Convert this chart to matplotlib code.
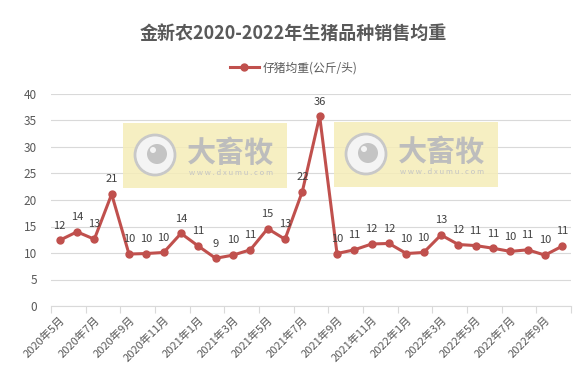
import matplotlib.pyplot as plt
from matplotlib.patches import Rectangle, Ellipse

plt.rcParams['font.family'] = ['Noto Sans CJK SC', 'DejaVu Sans']

# 数据
months = ["2020年5月", "2020年6月", "2020年7月", "2020年8月", "2020年9月", "2020年10月",
          "2020年11月", "2020年12月", "2021年1月", "2021年2月", "2021年3月", "2021年4月",
          "2021年5月", "2021年6月", "2021年7月", "2021年8月", "2021年9月", "2021年10月",
          "2021年11月", "2021年12月", "2022年1月", "2022年2月", "2022年3月", "2022年4月",
          "2022年5月", "2022年6月", "2022年7月", "2022年8月", "2022年9月", "2022年10月"]
weights = [12.4, 14.0, 12.6, 21.1, 9.8, 9.9, 10.1, 13.7, 11.3, 9.0, 9.6, 10.6,
           14.6, 12.6, 21.6, 35.8, 9.9, 10.6, 11.7, 11.8, 9.9, 10.1, 13.4, 11.6,
           11.4, 10.9, 10.3, 10.6, 9.6, 11.3]
series_name = "仔猪均重(公斤/头)"
title = "金新农2020-2022年生猪品种销售均重"

W, H = 587, 379
fig = plt.figure(figsize=(W / 100, H / 100), dpi=100)
ax = fig.add_axes([51 / W, 1 - 306 / H, 520 / W, 212 / H])

x = list(range(len(weights)))
line_color = "#C0504D"
ax.plot(x, weights, color=line_color, linewidth=2.2, marker="o", markersize=5,
        label=series_name, zorder=3)

for xi, v in zip(x, weights):
    ax.annotate(f"{v:.0f}", (xi, v), xytext=(0, 7), textcoords="offset points",
                ha="center", va="bottom", fontsize=8, color="#404040", zorder=4)

ax.set_xlim(-0.5, len(weights) - 0.5)
ax.set_ylim(0, 40)
ax.set_yticks(range(0, 41, 5))
ax.grid(axis="y", color="#D9D9D9", linewidth=0.8)
ax.set_axisbelow(True)

# 类别轴：刻度线在类别之间，标签每隔一个
ax.set_xticks([i - 0.5 for i in range(0, len(weights) + 1, 2)])
ax.set_xticklabels([])
ax.set_xticks(x[::2], minor=True)
ax.set_xticklabels(months[::2], minor=True, rotation=45, ha="right",
                   rotation_mode="anchor", fontsize=8, color="#595959")
ax.tick_params(axis="x", which="major", length=5, color="#D9D9D9")
ax.tick_params(axis="x", which="minor", length=0, pad=6)
ax.tick_params(axis="y", length=0, labelsize=8.5, labelcolor="#595959", pad=10)

for s in ["top", "right", "left"]:
    ax.spines[s].set_visible(False)
ax.spines["bottom"].set_color("#D9D9D9")

# 水印
def px(xp, yp):
    return xp / W, 1 - yp / H

for x0, y0 in [(123, 123), (334, 122)]:
    fig.patches.append(Rectangle(px(x0, y0 + 65), 164 / W, 65 / H,
                                 transform=fig.transFigure, facecolor="#F5EDB8",
                                 edgecolor="none", alpha=0.85, zorder=0))
    fig.patches.append(Ellipse(px(x0 + 32, y0 + 32), 40 / W, 40 / H,
                               transform=fig.transFigure, facecolor="#F4F4F4",
                               edgecolor="#C8C8C8", linewidth=2, zorder=1))
    fig.patches.append(Ellipse(px(x0 + 34, y0 + 31), 20 / W, 20 / H,
                               transform=fig.transFigure, facecolor="#C4C4C4",
                               edgecolor="none", zorder=1))
    fig.patches.append(Ellipse(px(x0 + 30, y0 + 27), 6 / W, 6 / H,
                               transform=fig.transFigure, facecolor="#F4F4F4",
                               edgecolor="none", zorder=1))
    fig.text(*px(x0 + 108, y0 + 30), "大畜牧", fontsize=21, fontweight="bold",
             color="#BDBDBD", ha="center", va="center", zorder=1)
    fig.text(*px(x0 + 108, y0 + 50), "w w w . d x u m u . c o m", fontsize=5.5,
             color="#C4C4C4", ha="center", va="center", zorder=1)

fig.text(0.5, 1 - 33 / H, title, ha="center", va="center", fontsize=13,
         fontweight="bold", color="#595959")
fig.legend(loc="center", bbox_to_anchor=(0.5, 1 - 68 / H), frameon=False,
           fontsize=8.5, labelcolor="#595959", handlelength=2.5, handletextpad=0.3)

fig.savefig("out.png", dpi=100)
